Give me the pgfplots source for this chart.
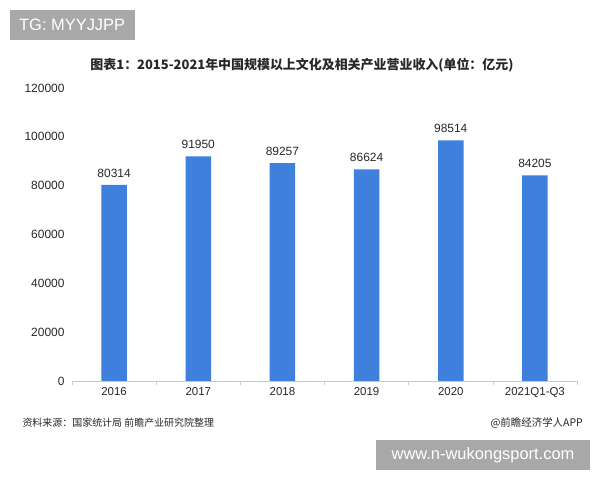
\documentclass[border=0pt]{standalone}
\usepackage{pgfplots}
\pgfplotsset{compat=1.18}
\usepackage{fontspec}
\setmainfont{Liberation Sans}
\newfontfamily\cjk{Noto Sans CJK SC}
\definecolor{barblue}{RGB}{64,128,221}
\definecolor{boxgray}{RGB}{168,168,168}
\definecolor{axgray}{RGB}{200,200,200}
\definecolor{txt}{RGB}{40,40,40}
\begin{document}
\begin{tikzpicture}[x=1bp,y=1bp]
\fill[white] (0,0) rectangle (600,480);
\begin{axis}[
  at={(72bp,99bp)}, anchor=south west,
  scale only axis, width=505bp, height=293bp,
  xmin=-0.5, xmax=5.5, ymin=0, ymax=120000,
  ytick={0,20000,40000,60000,80000,100000,120000},
  xtick={0,1,2,3,4,5},
  xticklabels={2016,2017,2018,2019,2020,2021Q1-Q3},
  minor xtick={-0.5,0.5,1.5,2.5,3.5,4.5,5.5},
  tick align=outside,
  major tick length=0pt,
  minor tick length=4bp,
  minor x tick style={axgray, line width=0.6pt},
  major y tick style={draw=none},
  axis x line*=bottom, axis y line*=left,
  y axis line style={draw=none},
  x axis line style={axgray, line width=0.8pt, -},
  scaled y ticks=false,
  /pgf/number format/assume math mode=true,
  /pgf/number format/fixed,
  /pgf/number format/precision=0,
  /pgf/number format/1000 sep={},
  xticklabel style={font=\fontsize{11.5}{13}\selectfont, text=txt, yshift=-3bp},
  yticklabel style={font=\fontsize{12}{14}\selectfont, text=txt, xshift=-4bp},
  ybar, bar width=25.5bp,
  nodes near coords,
  nodes near coords style={font=\fontsize{12}{14}\selectfont, text=txt, /pgf/number format/1000 sep={}, yshift=4bp},
  clip=false,
]
\addplot[fill=barblue, draw=none] coordinates {(0,80314) (1,91950) (2,89257) (3,86624) (4,98514) (5,84205)};
\end{axis}
% top-left tag
\fill[boxgray] (10,440) rectangle (135,470);
\node[anchor=west, text=white, font=\fontsize{16.5}{18}\selectfont, inner sep=0pt] at (19,455) {TG: MYYJJPP};
% title
\node[text=txt, font=\cjk\bfseries\fontsize{13}{15}\selectfont] at (302,415) {图表1：2015-2021年中国规模以上文化及相关产业营业收入(单位：亿元)};
% source
\node[anchor=west, text=txt, font=\cjk\fontsize{10}{12}\selectfont] at (19,57) {资料来源：国家统计局 前瞻产业研究院整理};
\node[anchor=east, text=txt, font=\cjk\fontsize{10.5}{12}\selectfont, inner sep=0pt] at (583,57) {@前瞻经济学人APP};
% bottom-right tag
\fill[boxgray] (376,10) rectangle (590,40);
\node[text=white, font=\fontsize{16.5}{18}\selectfont] at (483,25) {www.n-wukongsport.com};
\end{tikzpicture}
\end{document}
